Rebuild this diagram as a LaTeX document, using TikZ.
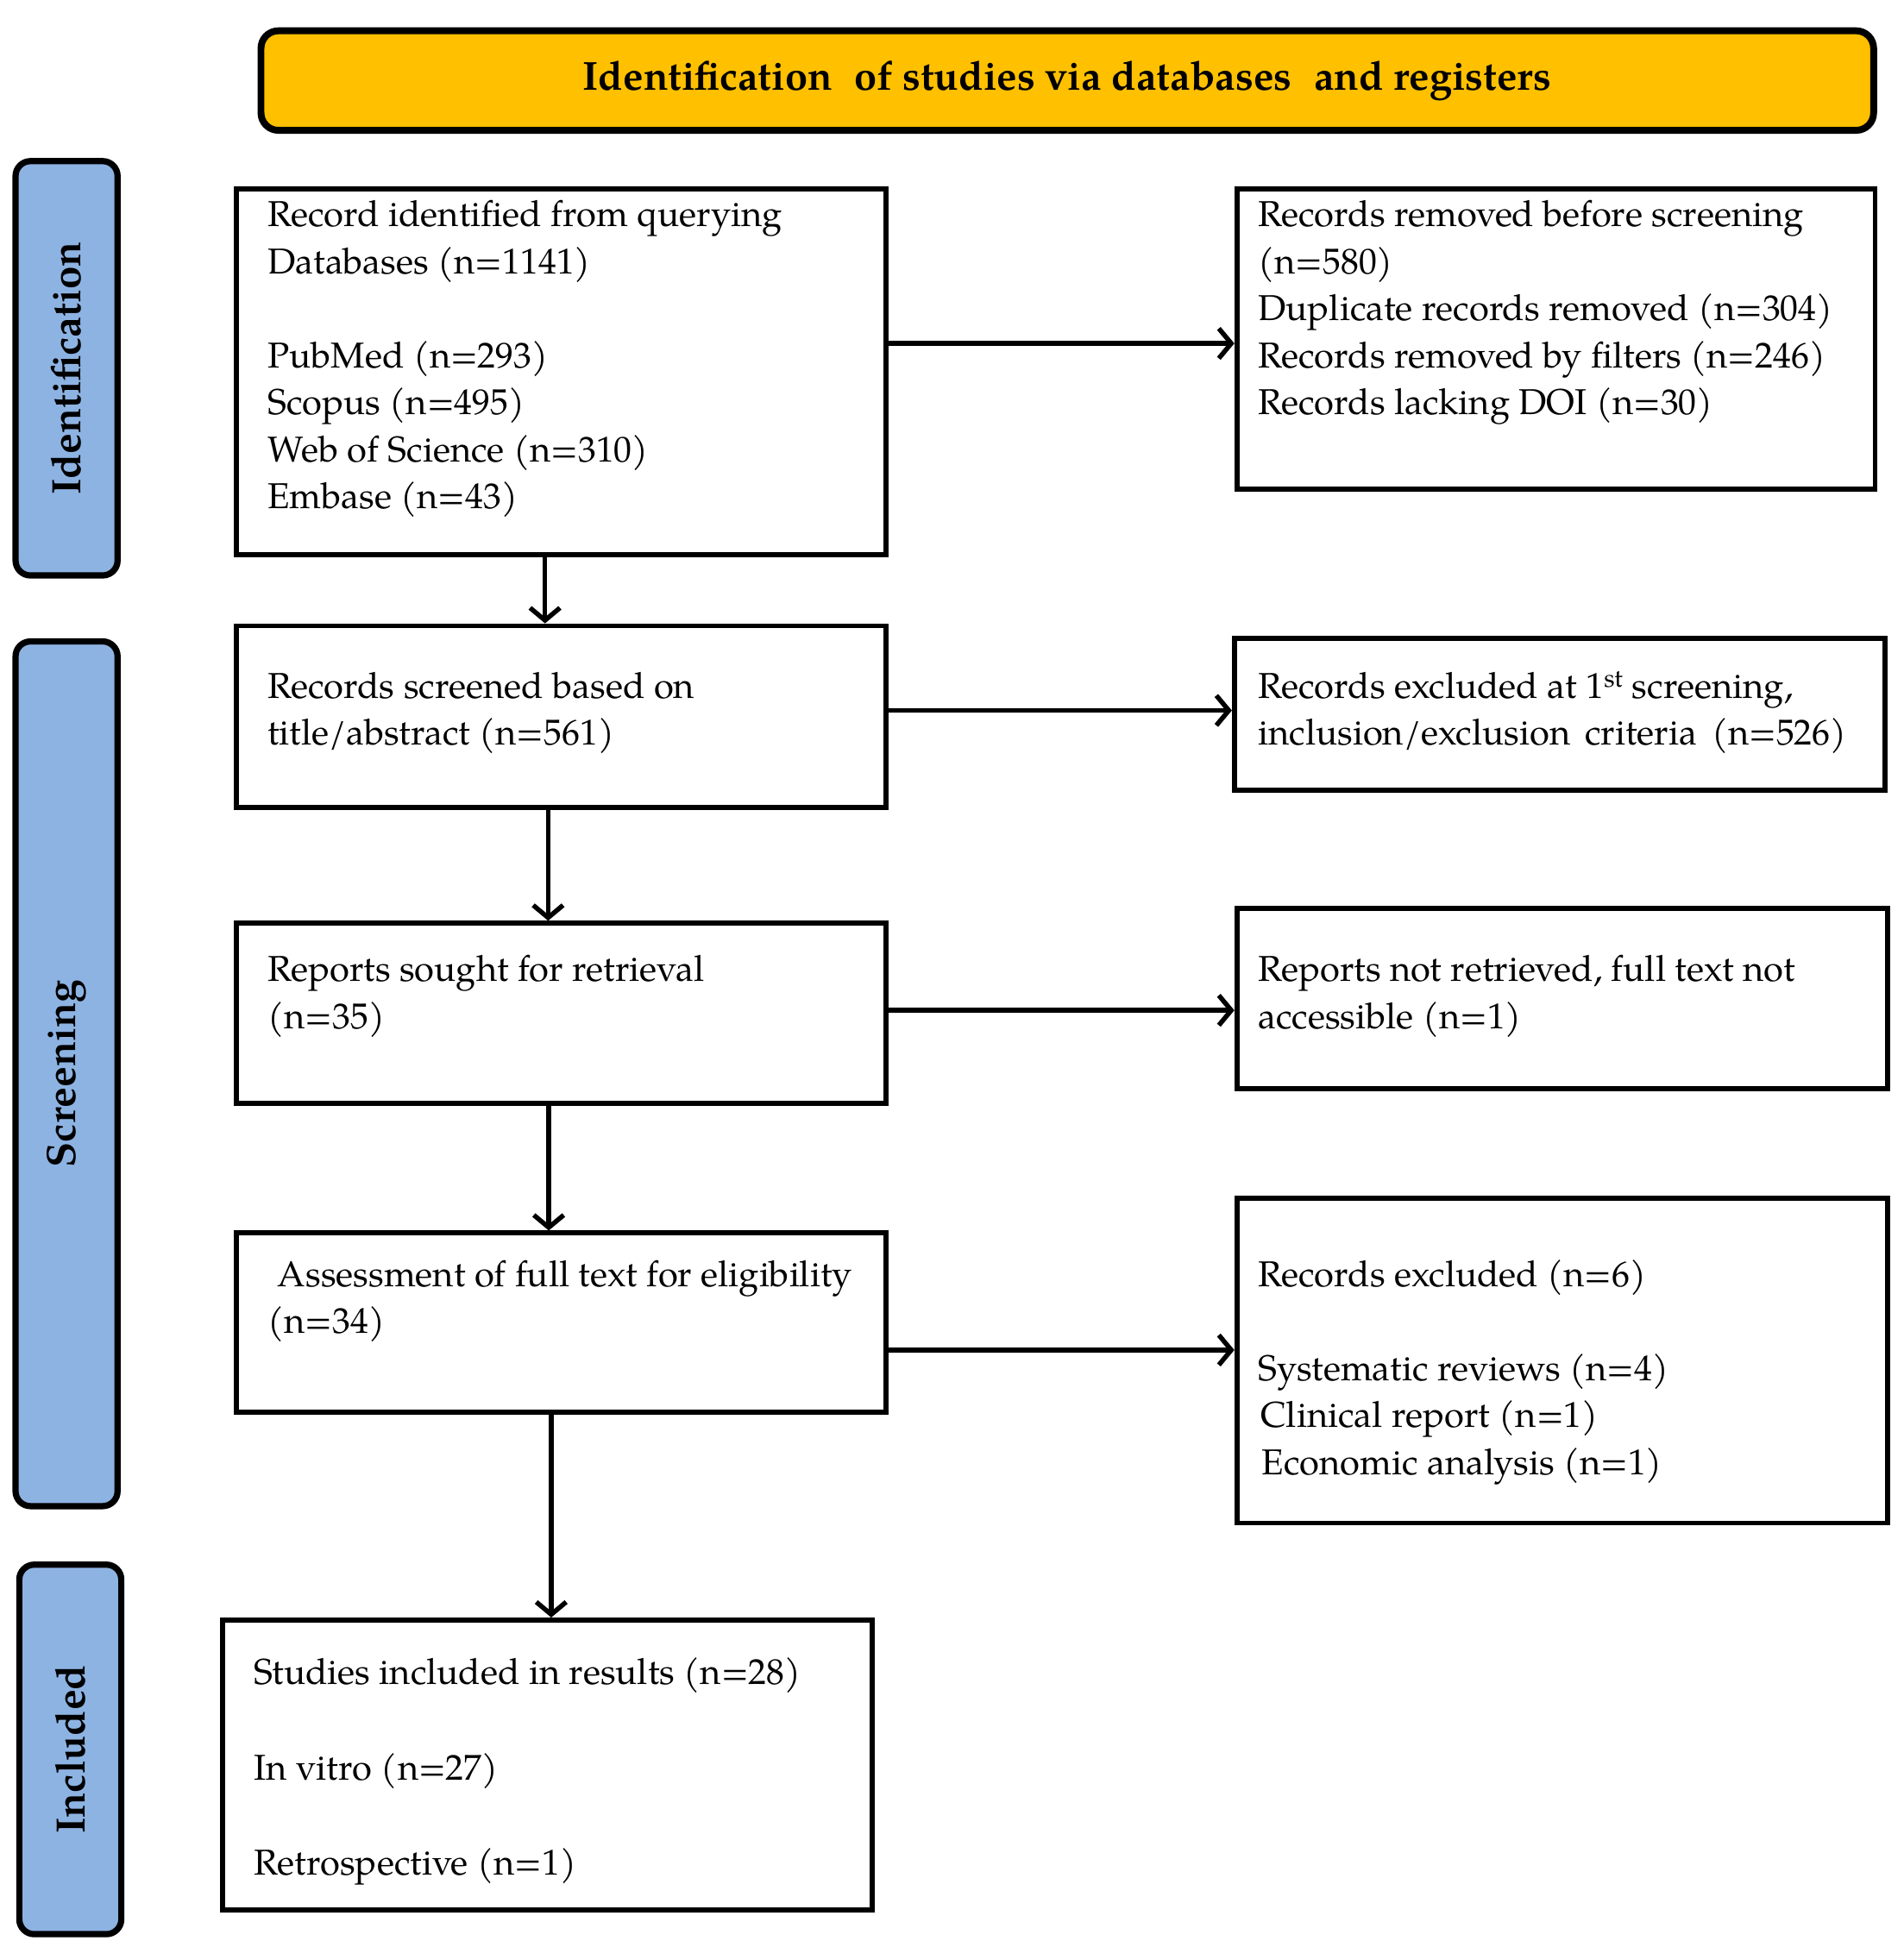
\documentclass[tikz,border=0pt]{standalone}
\usepackage{fontspec}
\setmainfont{texgyrepagella}[Extension=.otf, UprightFont=*-regular, BoldFont=*-bold, ItalicFont=*-italic, BoldItalicFont=*-bolditalic]
\usetikzlibrary{arrows.meta}
\definecolor{hdrfill}{RGB}{255,192,0}
\definecolor{barfill}{RGB}{141,179,226}
\begin{document}
\begin{tikzpicture}[x=1pt,y=-1pt,
  box/.style={draw, line width=4pt, inner sep=0pt, anchor=north west},
  txt/.style={anchor=base west, align=left, inner sep=0pt, font=\fontsize{28.9}{37.8}\selectfont},
  bar/.style={draw, line width=5pt, rounded corners=12pt, fill=barfill, inner sep=0pt, anchor=north west},
  barlbl/.style={rotate=90, inner sep=0pt, font=\bfseries\fontsize{33}{36}\selectfont},
  arr/.style={line width=3.8pt, -{Straight Barb[length=10pt,width=24pt]}}]
\useasboundingbox (0,0) rectangle (1530,1560);

% header
\node[draw, line width=5.5pt, rounded corners=14pt, fill=hdrfill, inner sep=0pt, anchor=north west,
      minimum width=1296pt, minimum height=80pt, font=\bfseries\fontsize{32.5}{36}\selectfont] (hdr) at (207,22)
  {Identification\hspace{0.3em} of studies via databases\hspace{0.3em} and registers};

% side bars
\node[bar, minimum width=82pt, minimum height=333pt] (barI) at (10,127) {};
\node[bar, minimum width=82pt, minimum height=695pt] (barS) at (10,513) {};
\node[bar, minimum width=82pt, minimum height=297pt] (barN) at (13,1255) {};
\node[barlbl] (lblI) at (barI.center) {Identification};
\node[barlbl] (lblS) at (barS.center) {Screening};
\node[barlbl] (lblN) at (barN.center) {Included};

% boxes
\node[box, minimum width=522pt, minimum height=294pt] (b1) at (188,150) {};
\node[box, minimum width=513pt, minimum height=241pt] (r1) at (992,150) {};
\node[box, minimum width=522pt, minimum height=146pt] (b2) at (188,501) {};
\node[box, minimum width=523pt, minimum height=122pt] (r2) at (990,511) {};
\node[box, minimum width=522pt, minimum height=145pt] (b3) at (188,740) {};
\node[box, minimum width=523pt, minimum height=145pt] (r3) at (992,728) {};
\node[box, minimum width=522pt, minimum height=144pt] (b4) at (188,989) {};
\node[box, minimum width=523pt, minimum height=261pt] (r4) at (992,961) {};
\node[box, minimum width=522pt, minimum height=233pt] (b5) at (177,1300) {};

% texts (anchor = baseline of the last line)
\node[txt] (t1) at (215,408.8) {Record identified from querying\\Databases (n=1141)\\[37.8pt]PubMed (n=293)\\Scopus (n=495)\\Web of Science (n=310)\\Embase (n=43)};
\node[txt] (tr1) at (1011,333.2) {Records removed before screening\\(n=580)\\Duplicate records removed (n=304)\\Records removed by filters (n=246)\\Records lacking DOI (n=30)};
\node[txt] (t2) at (215,598.8) {Records screened based on\\title/abstract (n=561)};
\node[txt] (tr2) at (1011,598.8) {Records excluded at 1\textsuperscript{st} screening,\\\makebox[473pt][s]{inclusion/exclusion criteria (n=526)}};
\node[txt] (t3) at (215,826.8) {Reports sought for retrieval\\(n=35)};
\node[txt] (tr3) at (1011,826.8) {Reports not retrieved, full text not\\accessible (n=1)};
\node[txt] (t4) at (215,1071.8) {\hspace{8pt}Assessment of full text for eligibility\\(n=34)};
\node[txt] (tr4) at (1011,1185.2) {Records excluded (n=6)\\[37.8pt]Systematic reviews (n=4)\\\hspace{2pt}Clinical report (n=1)\\\hspace{3pt}Economic analysis (n=1)};
\node[txt] (t5) at (204,1507) {Studies included in results (n=28)\\[38.7pt]In vitro (n=27)\\[38.7pt]Retrospective (n=1)};

% connectors
\draw[arr] (b1.east |- 0,276) -- (r1.west |- 0,276);
\draw[arr] (b2.east |- 0,571) -- (r2.west |- 0,571);
\draw[arr] (b3.east |- 0,812) -- (r3.west |- 0,812);
\draw[arr] (b4.east |- 0,1085) -- (r4.west |- 0,1085);
\draw[arr] (b1.south -| 438,0) -- (b2.north -| 438,0);
\draw[arr] (b2.south -| 440.5,0) -- (b3.north -| 440.5,0);
\draw[arr] (b3.south -| 441,0) -- (b4.north -| 441,0);
\draw[arr] (b4.south -| 443,0) -- (b5.north -| 443,0);
\end{tikzpicture}
\end{document}
